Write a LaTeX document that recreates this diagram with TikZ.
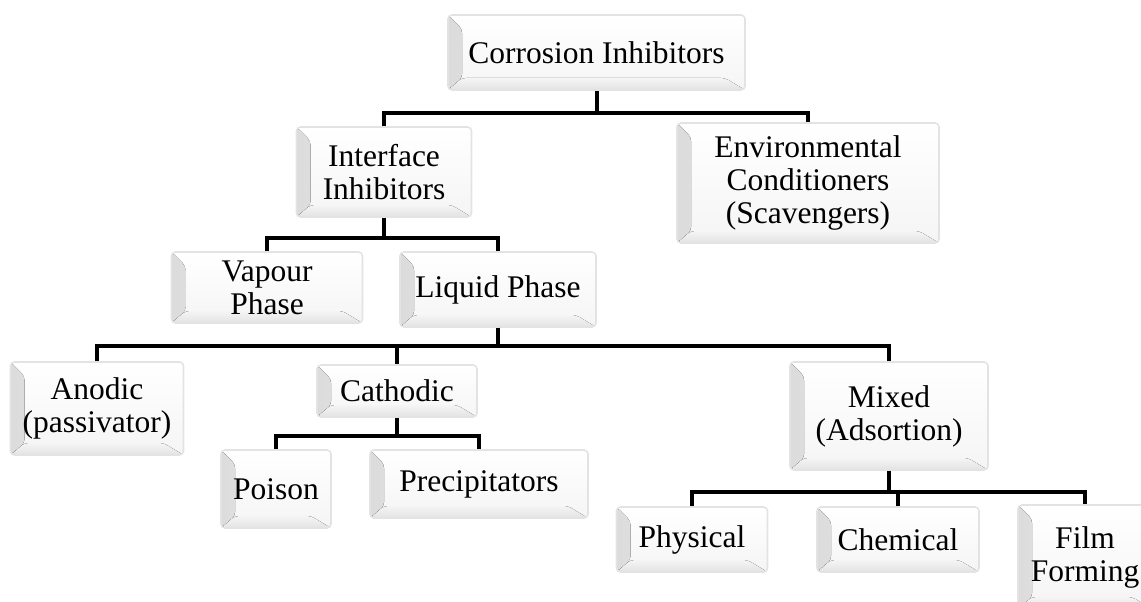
\documentclass[tikz,border=0pt]{standalone}
\usepackage{fontspec}
\setmainfont{Liberation Serif}
\usepackage{tikz}
\usepackage{xcolor}

\begin{document}
\begin{tikzpicture}[x=1pt,y=-1pt]
	\tikzstyle{edge} = [draw=black, line width=4pt]
	\tikzstyle{box} = [draw=gray!22, line width=1.6pt, rounded corners=4pt,
		top color=white, bottom color=gray!8, inner sep=0pt, align=center,
		font=\fontsize{31.5}{33}\selectfont,
		path picture={
			\fill[left color=gray!28, right color=gray!6]
				(path picture bounding box.north west) -- ++(14,14)
				-- ([shift={(14,-12)}]path picture bounding box.south west)
				-- (path picture bounding box.south west) -- cycle;
			\fill[top color=gray!8, bottom color=gray!22]
				(path picture bounding box.south west)
				-- ([shift={(14,-12)}]path picture bounding box.south west)
				-- ([shift={(-20,-12)}]path picture bounding box.south east)
				-- (path picture bounding box.south east) -- cycle;
		}]
	\useasboundingbox (0,0) rectangle (1141,602);
		\node[box, minimum width=297pt, minimum height=75pt]  (ci) at (596.5,52.5) {Corrosion Inhibitors};
		\node[box, minimum width=175pt, minimum height=90pt]  (ii) at (384,172)    {Interface\\Inhibitors};
		\node[box, minimum width=262pt, minimum height=120pt] (ec) at (808,183)    {Environmental\\Conditioners\\(Scavengers)};
		\node[box, minimum width=191pt, minimum height=71pt]  (vp) at (267,287.5)  {Vapour\\Phase};
		\node[box, minimum width=196pt, minimum height=75pt]  (lp) at (498,289.5)  {Liquid Phase};
		\node[box, minimum width=173pt, minimum height=93pt]  (an) at (97,408.5)   {Anodic\\(passivator)};
		\node[box, minimum width=160pt, minimum height=52pt]  (ca) at (397,391)    {Cathodic};
		\node[box, minimum width=198pt, minimum height=108pt] (mx) at (889,416)    {Mixed\\(Adsortion)};
		\node[box, minimum width=110pt, minimum height=78pt]  (po) at (276,489)    {Poison};
		\node[box, minimum width=218pt, minimum height=68pt]  (pr) at (479,484)    {Precipitators};
		\node[box, minimum width=151pt, minimum height=65pt]  (ph) at (692,539.5)  {Physical};
		\node[box, minimum width=162pt, minimum height=65pt]  (ch) at (898,539.5)  {Chemical};
		\node[box, minimum width=134pt, minimum height=104pt] (ff) at (1085,557)   {Film\\Forming};
	\draw[edge] (ci.south) -- ++(0,22) -| (ii.north);
	\draw[edge] (ci.south) -- ++(0,22) -| (ec.north);
	\draw[edge] (ii.south) -- ++(0,20) -| (vp.north);
	\draw[edge] (ii.south) -- ++(0,20) -| (lp.north);
	\draw[edge] (lp.south) -- ++(0,18) -| (an.north);
	\draw[edge] (lp.south) -- ++(0,18) -| (ca.north);
	\draw[edge] (lp.south) -- ++(0,18) -| (mx.north);
	\draw[edge] (ca.south) -- ++(0,18) -| (po.north);
	\draw[edge] (ca.south) -- ++(0,18) -| (pr.north);
	\draw[edge] (mx.south) -- ++(0,21) -| (ph.north);
	\draw[edge] (mx.south) -- ++(0,21) -| (ch.north);
	\draw[edge] (mx.south) -- ++(0,21) -| (ff.north);
	\end{tikzpicture}
\end{document}
